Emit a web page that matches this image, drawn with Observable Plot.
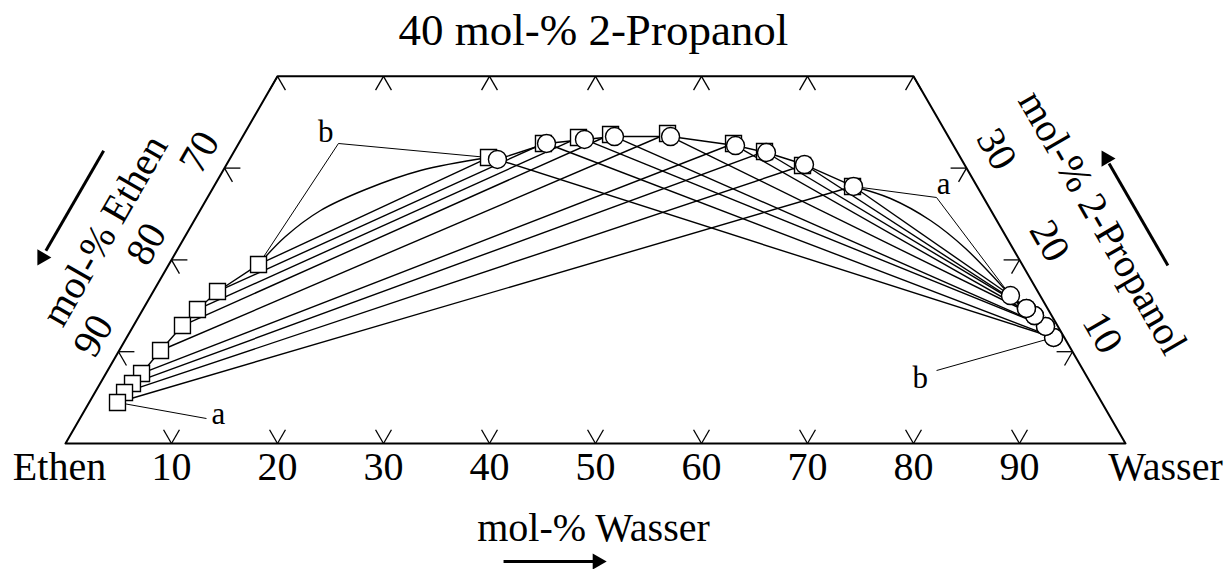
<!DOCTYPE html>
<html><head><meta charset="utf-8">
<script src="https://cdn.jsdelivr.net/npm/d3@7"></script>
<script src="https://cdn.jsdelivr.net/npm/@observablehq/plot@0.6"></script>
<style>
html,body{margin:0;padding:0;background:#fff;}
#chart svg{display:block;}
</style></head><body><div id="chart"></div>
<script>
// All compositions in mol-%: water (Wasser) and 2-propanol; ethene = 100 - water - propanol
// Ethene-rich phase (squares), from "b" (top) to "a" (bottom)
const leftWater    = [8.46, 6.06, 5.15, 4.61, 3.90, 3.36, 3.05, 2.79, 2.67];
const leftPropanol = [19.5, 16.56, 14.6, 12.85, 10.13, 7.63, 6.54, 5.56, 4.47];
// Middle phase, squares (tie lines to the ethene-rich phase)
const midSqWater    = [24.33, 28.75, 31.73, 34.59, 39.91, 46.68, 50.04, 54.39, 60.25];
const midSqPropanol = [31.15, 32.68, 33.33, 33.66, 33.77, 32.68, 31.81, 30.28, 28.0];
// Middle phase, circles (tie lines to the water-rich phase)
const midCiWater    = [25.28, 29.04, 32.4, 35.07, 40.36, 46.98, 50.28, 54.52, 60.34];
const midCiPropanol = [30.94, 32.68, 33.12, 33.44, 33.44, 32.46, 31.7, 30.39, 28.0];
// Water-rich phase (circles), partner of each middle circle
const rightWater    = [87.44, 87.44, 86.08, 86.08, 84.45, 84.45, 83.3, 83.3, 81.09];
const rightPropanol = [11.55, 11.55, 12.75, 12.75, 13.94, 13.94, 14.71, 14.71, 16.12];
// Binodal curve pieces between the branches
const curveBWater    = [8.46, 9.48, 11.37, 14.47, 18.62, 24.33];
const curveBPropanol = [19.5, 22.55, 25.38, 27.67, 29.74, 31.15];
const curveAWater    = [60.34, 64.49, 69.46, 74.29, 81.09];
const curveAPropanol = [28.0, 26.69, 24.29, 21.24, 16.12];

// Axis ticks
const bottomTickValues = [10, 20, 30, 40, 50, 60, 70, 80, 90];
const bottomLabels = ["Ethen", "10", "20", "30", "40", "50", "60", "70", "80", "90", "Wasser"];
const bottomLabelWater = [0, 10, 20, 30, 40, 50, 60, 70, 80, 90, 100];
const topTickWater = [0, 10, 20, 30, 40, 50, 60];
const sideTickPropanol = [10, 20, 30];
const leftLabels = ["90", "80", "70"];     // mol-% Ethen
const rightLabels = ["10", "20", "30"];    // mol-% 2-Propanol
const maxPropanol = 40;

// Texts
const titleText = "40 mol-% 2-Propanol";
const xTitle = "mol-% Wasser";
const leftTitle = "mol-% Ethen";
const rightTitle = "mol-% 2-Propanol";

const S = Math.sqrt(3) / 2;
const X = d => d.w + d.p / 2;
const Y = d => d.p * S;
const pts = (ws, ps) => ws.map((w, i) => ({w, p: ps[i], i}));

const left = pts(leftWater, leftPropanol);
const midSq = pts(midSqWater, midSqPropanol);
const midCi = pts(midCiWater, midCiPropanol);
const right = pts(rightWater, rightPropanol);
const curveB = pts(curveBWater, curveBPropanol);
const curveA = pts(curveAWater, curveAPropanol);

const tieLeft = left.map((d, i) => ({a: d, b: midSq[i]}));
const tieRight = midCi.map((d, i) => ({a: d, b: right[i]}));

// ticks
const L = 1.5;
const ticks = [];
const arm = (x, y, dx, dy) => ticks.push({x1: x, y1: y, x2: x + dx * L, y2: y + dy * L});
bottomTickValues.forEach(w => { arm(w, 0, -0.5, S); arm(w, 0, 0.5, S); });
topTickWater.forEach(w => { const x = w + maxPropanol / 2, y = maxPropanol * S; arm(x, y, -0.5, -S); arm(x, y, 0.5, -S); });
sideTickPropanol.forEach(p => { const x = p / 2, y = p * S; arm(x, y, 1, 0); arm(x, y, 0.5, -S); });
sideTickPropanol.forEach(p => { const x = 100 - p / 2, y = p * S; arm(x, y, -1, 0); arm(x, y, -0.5, -S); });

const frame = [{w: 0, p: 0}, {w: 0, p: maxPropanol}, {w: 100 - maxPropanol, p: maxPropanol}, {w: 100, p: 0}, {w: 0, p: 0}];

// annotations (positions in composition units)
const annLabels = [
  {t: "b", w: 7.6, p: 33.9},
  {t: "a", w: 68.7, p: 28.3},
  {t: "a", w: 12.85, p: 3.16},
  {t: "b", w: 77.1, p: 7.08}
];
const leaders = [
  {a: {w: 9.41, p: 32.68}, b: left[0]},
  {a: {w: 9.41, p: 32.68}, b: midSq[0]},
  {a: {w: 68.77, p: 26.8}, b: midCi[8]},
  {a: {w: 68.77, p: 26.8}, b: right[8]},
  {a: {w: 11.94, p: 2.72}, b: left[8]},
  {a: {w: 78.2, p: 7.95}, b: right[0]}
];
const titles = [
  {t: titleText, w: 27.3, p: 45.0, rot: 0, fs: 45},
  {t: xTitle, w: 54.44, p: -9.26, rot: 0, fs: 40},
  {t: leftTitle, w: -7.9, p: 23.2, rot: -60, fs: 40},
  {t: rightTitle, w: 85.8, p: 24.07, rot: 60, fs: 40}
];
const arrows = [
  {a: {w: 47.75, p: -12.85}, b: {w: 56.2, p: -12.85}, h: {w: 56.6, p: -12.85}, rot: 90},
  {a: {w: -12.35, p: 31.9}, b: {w: -12.35, p: 21.0}, h: {w: -12.35, p: 20.27}, rot: 210},
  {a: {w: 94.3, p: 19.4}, b: {w: 113.7 - 30.5, p: 30.5}, h: {w: 113.7 - 31.04, p: 31.04}, rot: 330}
];

const font = "Liberation Serif, Times New Roman, serif";
const FS = 40;
const lineStyle = {stroke: "black", strokeWidth: 1.4};

const chart = Plot.plot({
  width: 1226,
  height: 569,
  style: {fontFamily: font, background: "white"},
  x: {domain: [0, 100], range: [65, 1125], axis: null},
  y: {domain: [0, maxPropanol * S], range: [443, 75.8], axis: null},
  marks: [
    Plot.line(frame, {x: X, y: Y, stroke: "black", strokeWidth: 2}),
    Plot.link(ticks, {x1: "x1", y1: "y1", x2: "x2", y2: "y2", stroke: "black", strokeWidth: 1.3}),
    Plot.link(tieLeft, {x1: d => X(d.a), y1: d => Y(d.a), x2: d => X(d.b), y2: d => Y(d.b), ...lineStyle}),
    Plot.link(tieRight, {x1: d => X(d.a), y1: d => Y(d.a), x2: d => X(d.b), y2: d => Y(d.b), ...lineStyle}),
    Plot.line(left, {x: X, y: Y, ...lineStyle}),
    Plot.line(curveB, {x: X, y: Y, curve: "catmull-rom", ...lineStyle}),
    Plot.line(midCi, {x: X, y: Y, ...lineStyle}),
    Plot.line(curveA, {x: X, y: Y, curve: "catmull-rom", ...lineStyle}),
    Plot.line(right, {x: X, y: Y, ...lineStyle}),
    Plot.link(leaders, {x1: d => X(d.a), y1: d => Y(d.a), x2: d => X(d.b), y2: d => Y(d.b), stroke: "black", strokeWidth: 1}),
    Plot.dot(left, {x: X, y: Y, symbol: "square", r: 9, fill: "white", stroke: "black", strokeWidth: 1.4}),
    Plot.dot(midSq, {x: X, y: Y, symbol: "square", r: 9, fill: "white", stroke: "black", strokeWidth: 1.4}),
    Plot.dot(midCi, {x: X, y: Y, symbol: "circle", r: 9, fill: "white", stroke: "black", strokeWidth: 1.4}),
    Plot.dot(right, {x: X, y: Y, symbol: "circle", r: 9, fill: "white", stroke: "black", strokeWidth: 1.4}),
    Plot.text(annLabels, {x: X, y: Y, text: "t", fontSize: 31, fill: "black"}),
    Plot.text(bottomLabels, {x: (d, i) => bottomLabelWater[i], y: () => 0, text: d => d, dy: 24,
      fontSize: FS, fill: "black"}),
    Plot.text(leftLabels, {x: (d, i) => sideTickPropanol[i] / 2, y: (d, i) => sideTickPropanol[i] * S, text: d => d,
      dx: -25, dy: -16, rotate: -60, fontSize: FS, fill: "black"}),
    Plot.text(rightLabels, {x: (d, i) => 100 - sideTickPropanol[i] / 2, y: (d, i) => sideTickPropanol[i] * S, text: d => d,
      dx: 30, dy: -19, rotate: 60, fontSize: FS, fill: "black"}),
    Plot.text(titles, {x: X, y: Y, text: "t", rotate: "rot", fontSize: "fs", fill: "black"}),
    Plot.link(arrows, {x1: d => X(d.a), y1: d => Y(d.a), x2: d => X(d.b), y2: d => Y(d.b), stroke: "black", strokeWidth: 3}),
    Plot.dot(arrows, {x: d => X(d.h), y: d => Y(d.h), symbol: "triangle", r: 6, rotate: "rot", fill: "black", stroke: "none"})
  ]
});
// corner labels Ethen / Wasser sit beside the corners
chart.querySelectorAll("text").forEach(t => {
  if (t.textContent === "Ethen") t.setAttribute("transform", (t.getAttribute("transform") || "") + " translate(-6,0)");
  if (t.textContent === "Wasser") t.setAttribute("transform", (t.getAttribute("transform") || "") + " translate(40,0)");
});
document.getElementById("chart").append(chart);
</script></body></html>
